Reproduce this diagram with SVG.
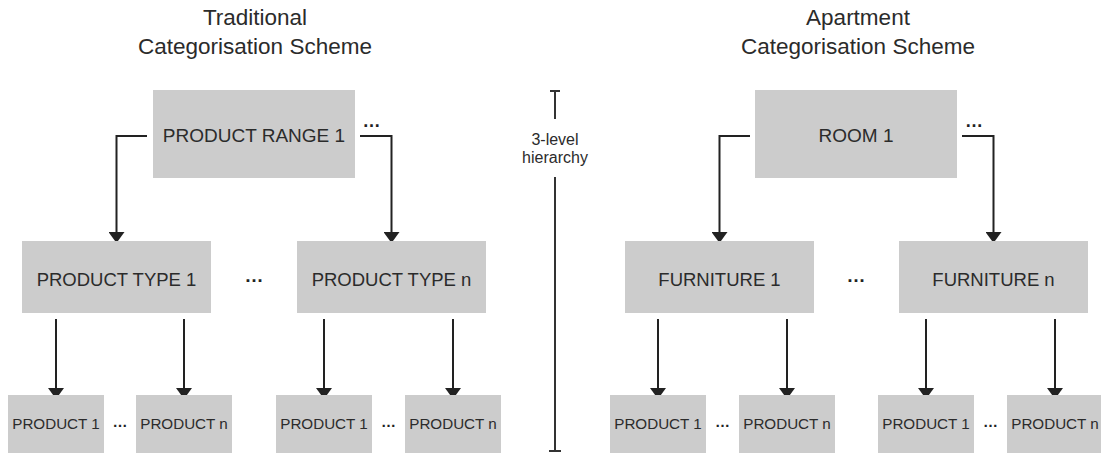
<svg xmlns="http://www.w3.org/2000/svg" width="1101" height="453" viewBox="0 0 1101 453">
<style>
  .box { fill: #cccccc; }
  .t { font-family: "Liberation Sans", Arial, sans-serif; fill: #2b2b2b; text-anchor: middle; }
  .title { font-size: 22.5px; }
  .l1 { font-size: 19px; }
  .l2 { font-size: 18.5px; }
  .l3 { font-size: 15.2px; }
  .hier { font-size: 16px; }
  .dots { font-weight: bold; fill: #222222; }
  .c { fill: none; stroke: #222222; stroke-width: 2; }
  .h { fill: none; stroke: #333333; stroke-width: 2; }
</style>
<defs>
  <marker id="ah" viewBox="0 0 11 16" refX="8" refY="8" markerWidth="11" markerHeight="16" markerUnits="userSpaceOnUse" orient="auto">
    <path d="M0,0 L11,8 L0,16 Z" fill="#222222"/>
  </marker>
</defs>
<rect width="1101" height="453" fill="#ffffff"/>

<!-- titles -->
<g id="title-left">
  <text class="t title" x="255" y="25">Traditional</text>
  <text class="t title" x="255" y="54">Categorisation Scheme</text>
</g>
<g id="title-right">
  <text class="t title" x="858" y="25">Apartment</text>
  <text class="t title" x="858" y="54">Categorisation Scheme</text>
</g>

<!-- hierarchy indicator -->
<g id="hierarchy">
  <path class="h" d="M550,91 H560 M555,91 V119 M555,177 V451 M549,451 H561"/>
  <text class="t hier" x="555" y="145">3-level</text>
  <text class="t hier" x="555" y="162.5">hierarchy</text>
</g>

<!-- connectors -->
<g id="connectors">
  <path class="c" d="M147,136 H116.5 V240" marker-end="url(#ah)"/>
  <path class="c" d="M360,136 H391.5 V240" marker-end="url(#ah)"/>
  <path class="c" d="M750,136 H719.5 V240" marker-end="url(#ah)"/>
  <path class="c" d="M962,136 H993.5 V240" marker-end="url(#ah)"/>
  <path class="c" d="M56,319 V396" marker-end="url(#ah)"/>
  <path class="c" d="M184,319 V396" marker-end="url(#ah)"/>
  <path class="c" d="M324,319 V396" marker-end="url(#ah)"/>
  <path class="c" d="M453,319 V396" marker-end="url(#ah)"/>
  <path class="c" d="M658,319 V396" marker-end="url(#ah)"/>
  <path class="c" d="M787,319 V396" marker-end="url(#ah)"/>
  <path class="c" d="M926,319 V396" marker-end="url(#ah)"/>
  <path class="c" d="M1055,319 V396" marker-end="url(#ah)"/>
</g>

<!-- left tree -->
<g id="product-range-1">
  <rect class="box" x="153" y="90" width="202" height="88"/>
  <text class="t l1" x="254" y="142.3">PRODUCT RANGE 1</text>
</g>
<text class="t dots" x="371.5" y="127" font-size="18">…</text>
<g id="product-type-1">
  <rect class="box" x="22" y="241" width="189" height="72"/>
  <text class="t l2" x="116.5" y="286.3">PRODUCT TYPE 1</text>
</g>
<text class="t dots" x="254" y="282" font-size="19">…</text>
<g id="product-type-n">
  <rect class="box" x="297" y="241" width="189" height="72"/>
  <text class="t l2" x="391.5" y="286.3">PRODUCT TYPE n</text>
</g>
<g id="lt-product-1a">
  <rect class="box" x="8" y="395" width="96" height="58"/>
  <text class="t l3" x="56" y="429.4">PRODUCT 1</text>
</g>
<text class="t dots" x="120" y="427" font-size="15">…</text>
<g id="lt-product-na">
  <rect class="box" x="136" y="395" width="96" height="58"/>
  <text class="t l3" x="184" y="429.4">PRODUCT n</text>
</g>
<g id="lt-product-1b">
  <rect class="box" x="276" y="395" width="96" height="58"/>
  <text class="t l3" x="324" y="429.4">PRODUCT 1</text>
</g>
<text class="t dots" x="388.5" y="427" font-size="15">…</text>
<g id="lt-product-nb">
  <rect class="box" x="405" y="395" width="96" height="58"/>
  <text class="t l3" x="453" y="429.4">PRODUCT n</text>
</g>

<!-- right tree -->
<g id="room-1">
  <rect class="box" x="755" y="90" width="202" height="88"/>
  <text class="t l1" x="856" y="142.3">ROOM 1</text>
</g>
<text class="t dots" x="974" y="127" font-size="18">…</text>
<g id="furniture-1">
  <rect class="box" x="625" y="241" width="189" height="72"/>
  <text class="t l2" x="719.5" y="286.3">FURNITURE 1</text>
</g>
<text class="t dots" x="856" y="282" font-size="19">…</text>
<g id="furniture-n">
  <rect class="box" x="899" y="241" width="189" height="72"/>
  <text class="t l2" x="993.5" y="286.3">FURNITURE n</text>
</g>
<g id="rt-product-1a">
  <rect class="box" x="610" y="395" width="96" height="58"/>
  <text class="t l3" x="658" y="429.4">PRODUCT 1</text>
</g>
<text class="t dots" x="722.5" y="427" font-size="15">…</text>
<g id="rt-product-na">
  <rect class="box" x="739" y="395" width="96" height="58"/>
  <text class="t l3" x="787" y="429.4">PRODUCT n</text>
</g>
<g id="rt-product-1b">
  <rect class="box" x="878" y="395" width="96" height="58"/>
  <text class="t l3" x="926" y="429.4">PRODUCT 1</text>
</g>
<text class="t dots" x="990.5" y="427" font-size="15">…</text>
<g id="rt-product-nb">
  <rect class="box" x="1007" y="395" width="96" height="58"/>
  <text class="t l3" x="1055" y="429.4">PRODUCT n</text>
</g>
</svg>
